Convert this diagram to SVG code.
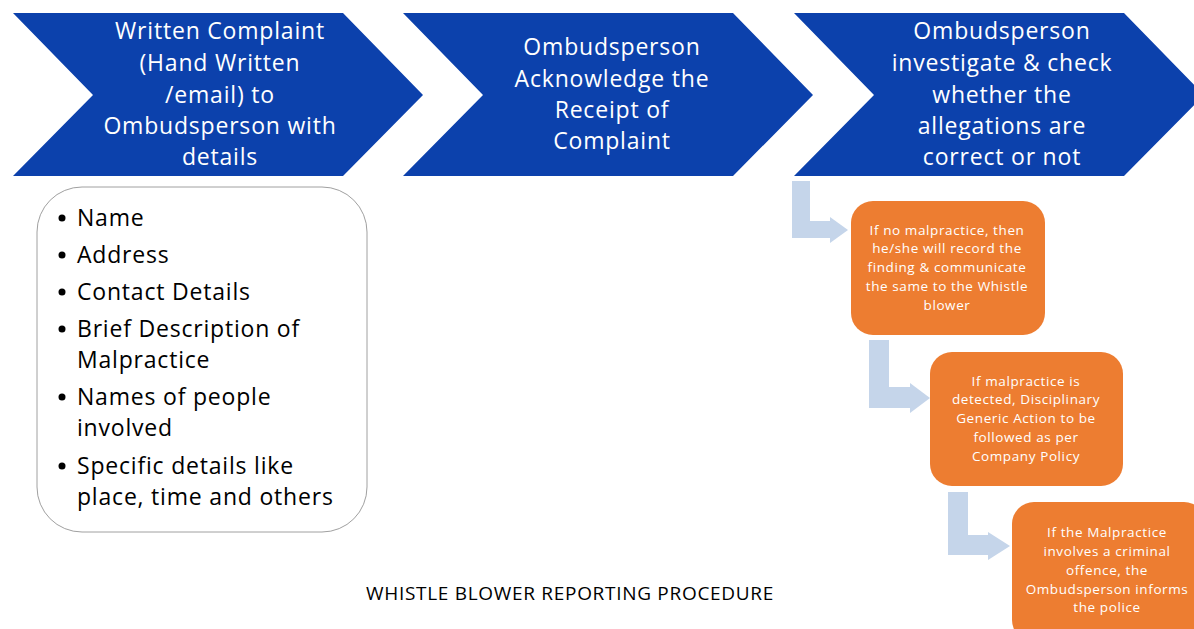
<svg xmlns="http://www.w3.org/2000/svg" width="1194" height="629" viewBox="0 0 1194 629">
<style>
.chev{fill:#0C41AC}
.ct{font-family:"Open Sans","Liberation Sans",sans-serif;font-size:23px;letter-spacing:0.8px;fill:#fff;text-anchor:middle}
.bt{font-family:"Open Sans","Liberation Sans",sans-serif;font-size:23px;letter-spacing:0.8px;fill:#000}
.ob{fill:#ED7D31}
.ot{font-family:"Open Sans","Liberation Sans",sans-serif;font-size:13.5px;letter-spacing:0.6px;fill:#fff;text-anchor:middle}
.ar{fill:#C5D5EA}
.cap{font-family:"Open Sans","Liberation Sans",sans-serif;font-size:19px;letter-spacing:0.7px;fill:#000;text-anchor:middle}
</style>
<rect width="1194" height="629" fill="#fff"/>
<g id="step1">
<polygon class="chev" points="13,13 343,13 423,95 343,176 13,176 93,95"/>
<text class="ct"><tspan x="220" y="39">Written Complaint</tspan><tspan x="220" y="71">(Hand Written</tspan><tspan x="220" y="103">/email) to</tspan><tspan x="220" y="134">Ombudsperson with</tspan><tspan x="220" y="165">details</tspan></text>
</g>
<g id="step2">
<polygon class="chev" points="403,13 733,13 813,95 733,176 403,176 483,95"/>
<text class="ct"><tspan x="612" y="55">Ombudsperson</tspan><tspan x="612" y="87">Acknowledge the</tspan><tspan x="612" y="118">Receipt of</tspan><tspan x="612" y="149">Complaint</tspan></text>
</g>
<g id="step3">
<polygon class="chev" points="794,13 1124,13 1204,95 1124,176 794,176 874,95"/>
<text class="ct"><tspan x="1002" y="39">Ombudsperson</tspan><tspan x="1002" y="71">investigate &amp; check</tspan><tspan x="1002" y="103">whether the</tspan><tspan x="1002" y="134">allegations are</tspan><tspan x="1002" y="165">correct or not</tspan></text>
</g>
<g id="details">
<rect x="37" y="187" width="330" height="345" rx="45" ry="45" fill="#fff" stroke="#A0A0A0" stroke-width="1"/>
<g fill="#000">
<circle cx="62" cy="218" r="3.5"/><circle cx="62" cy="255" r="3.5"/><circle cx="62" cy="292" r="3.5"/><circle cx="62" cy="329" r="3.5"/><circle cx="62" cy="397" r="3.5"/><circle cx="62" cy="466" r="3.5"/>
</g>
<text class="bt"><tspan x="77" y="226">Name</tspan><tspan x="77" y="263">Address</tspan><tspan x="77" y="300">Contact Details</tspan><tspan x="77" y="337">Brief Description of</tspan><tspan x="77" y="368">Malpractice</tspan><tspan x="77" y="405">Names of people</tspan><tspan x="77" y="436">involved</tspan><tspan x="77" y="474">Specific details like</tspan><tspan x="77" y="505">place, time and others</tspan></text>
</g>
<g id="connectors">
<polygon class="ar" points="792,181 810,181 810,221 830,221 830,217 848,230 830,243 830,238 792,238"/>
<polygon class="ar" points="869,340 889,340 889,387 910,387 910,383 930,398 910,413 910,408 869,408"/>
<polygon class="ar" points="948,492 968,492 968,535 988,535 988,532 1010,546 988,560 988,555 948,555"/>
</g>
<g id="outcome1">
<rect class="ob" x="851" y="201" width="194" height="134" rx="22" ry="22"/>
<text class="ot"><tspan x="947" y="235">If no malpractice, then</tspan><tspan x="947" y="253">he/she will record the</tspan><tspan x="947" y="272">finding &amp; communicate</tspan><tspan x="947" y="291">the same to the Whistle</tspan><tspan x="947" y="310">blower</tspan></text>
</g>
<g id="outcome2">
<rect class="ob" x="930" y="352" width="193" height="134" rx="22" ry="22"/>
<text class="ot"><tspan x="1026" y="386">If malpractice is</tspan><tspan x="1026" y="404">detected, Disciplinary</tspan><tspan x="1026" y="423">Generic Action to be</tspan><tspan x="1026" y="442">followed as per</tspan><tspan x="1026" y="461">Company Policy</tspan></text>
</g>
<g id="outcome3">
<rect class="ob" x="1012" y="502" width="194" height="140" rx="22" ry="22"/>
<text class="ot"><tspan x="1107" y="537">If the Malpractice</tspan><tspan x="1107" y="556">involves a criminal</tspan><tspan x="1107" y="575">offence, the</tspan><tspan x="1107" y="594">Ombudsperson informs</tspan><tspan x="1107" y="612">the police</tspan></text>
</g>
<text class="cap" x="570" y="600">WHISTLE BLOWER REPORTING PROCEDURE</text>
</svg>
